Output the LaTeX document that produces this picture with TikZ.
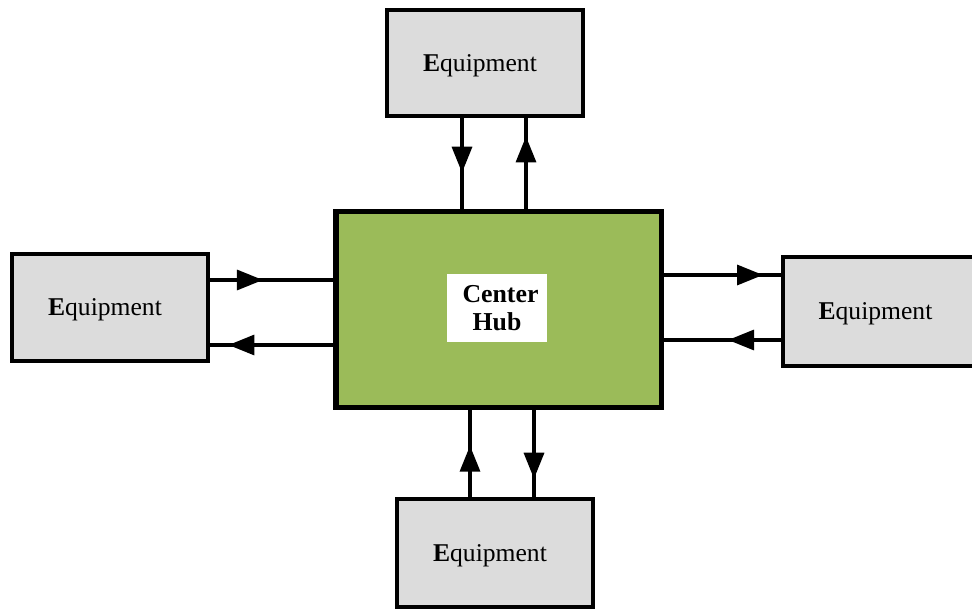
\documentclass[tikz,border=0pt]{standalone}
\usepackage{fontspec}
\setmainfont{Liberation Serif}
\usepackage{tikz}
\usetikzlibrary{arrows.meta}
\usetikzlibrary{decorations.markings}

\definecolor{boxgray}{RGB}{220,220,220}
\definecolor{hubgreen}{RGB}{155,187,89}

\tikzset{
    equip/.style={draw, line width=4bp, fill=boxgray, inner sep=0pt,
        minimum width=196bp, minimum height=106.5bp, text depth=0pt,
        font=\fontsize{25.6bp}{28bp}\selectfont},
    hubbox/.style={draw, line width=5.5bp, fill=hubgreen, inner sep=0pt,
        minimum width=325.5bp, minimum height=195.5bp},
    hublabel/.style={fill=white, inner sep=0pt, align=center,
        minimum width=100bp, minimum height=68bp,
        font=\fontsize{25.8bp}{28bp}\selectfont\bfseries},
    flow/.style={line width=3.3bp,
        decoration={markings, mark=at position #1 with {\arrow{Triangle[length=26bp, width=20bp]}}},
        postaction={decorate}},
}

\newcommand{\eqtext}{\textbf{E}quipment\hspace*{10bp}}

\begin{document}
\begin{tikzpicture}[x=1bp, y=-1bp]
    \useasboundingbox (0, 0) rectangle (972, 610);

    \node[hubbox] (hub) at (498.5, 309.5) {};
    \node[hublabel] (hubtext) at (497, 308) {\hspace*{7bp}Center\\Hub};

    \node[equip] (eqtop) at (485, 63) {\eqtext};
    \node[equip] (eqleft) at (110, 307.5) {\eqtext};
    \node[equip, minimum height=109bp] (eqright) at (880.5, 311.5) {\eqtext};
    \node[equip, minimum height=108bp] (eqbottom) at (495, 553) {\eqtext};

    % top
    \draw[flow=0.6] ([xshift=-23bp]eqtop.south) -- ([xshift=-23bp]eqtop.south |- hub.north);
    \draw[flow=0.8] ([xshift=41bp]eqtop.south |- hub.north) -- ([xshift=41bp]eqtop.south);
    % left
    \draw[flow=0.43] ([yshift=27.5bp]eqleft.east) -- ([yshift=27.5bp]eqleft.east -| hub.west);
    \draw[flow=0.85] ([yshift=-37.5bp]eqleft.east -| hub.west) -- ([yshift=-37.5bp]eqleft.east);
    % right
    \draw[flow=0.85] ([yshift=36.5bp]eqright.west -| hub.east) -- ([yshift=36.5bp]eqright.west);
    \draw[flow=0.45] ([yshift=-28.5bp]eqright.west) -- ([yshift=-28.5bp]eqright.west -| hub.east);
    % bottom
    \draw[flow=0.59] ([xshift=-25bp]eqbottom.north) -- ([xshift=-25bp]eqbottom.north |- hub.south);
    \draw[flow=0.79] ([xshift=39bp]eqbottom.north |- hub.south) -- ([xshift=39bp]eqbottom.north);
\end{tikzpicture}
\end{document}
